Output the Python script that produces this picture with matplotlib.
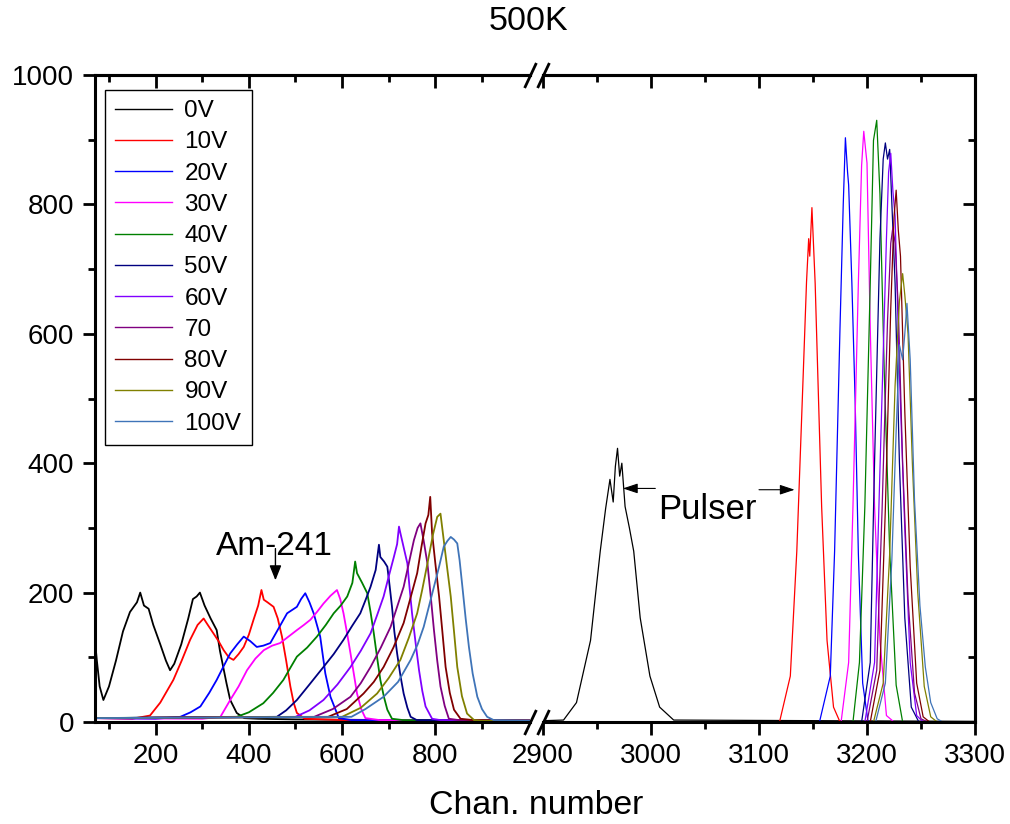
import matplotlib
matplotlib.use("Agg")
import matplotlib.pyplot as plt

plt.rcParams['font.family'] = ['Liberation Sans', 'DejaVu Sans']

# spectra: channel / counts, Am-241 part then pulser part
ch_0V = [70, 74, 80, 88, 100, 115, 130, 145, 160, 167, 175, 185, 195, 210, 222, 231, 240, 255, 270, 280,
         288, 295, 305, 318, 331, 338, 345, 352, 360, 374, 390, 420, 500, 700, 1005,
         2900, 2919, 2931, 2944, 2953, 2958, 2962, 2965, 2967, 2969, 2971, 2973, 2976, 2980, 2984, 2990,
         2999, 3008, 3021, 3300]
cnt_0V = [125, 95, 55, 34, 55, 95, 140, 170, 185, 200, 180, 175, 150, 120, 95, 80, 90, 120, 160, 190,
          194, 200, 180, 160, 142, 110, 85, 60, 34, 14, 6, 5, 4, 3, 2,
          2, 3, 30, 126, 264, 330, 375, 340, 395, 423, 380, 400, 333, 300, 264, 161,
          71, 23, 3, 1]

ch_10V = [70, 150, 188, 210, 238, 256, 274, 290, 303, 312, 324, 335, 346, 357, 367, 378, 389, 400, 410, 420,
          427, 432, 440, 453, 462, 471, 480, 489, 496, 503, 520, 600, 1005,
          2900, 3119, 3129, 3135, 3141, 3144, 3146, 3147, 3149, 3152, 3155, 3158, 3163, 3169, 3175, 3300]
cnt_10V = [6, 5, 10, 30, 65, 95, 127, 150, 160, 150, 137, 125, 111, 100, 96, 105, 116, 135, 158, 180,
           204, 189, 185, 178, 160, 132, 95, 55, 30, 14, 5, 3, 2,
           0, 0, 71, 264, 540, 680, 747, 720, 795, 678, 505, 333, 126, 23, 0, 0]

ch_20V = [70, 200, 253, 275, 296, 315, 331, 345, 360, 375, 389, 403, 417, 431, 446, 464, 482, 503, 512, 521,
          530, 539, 553, 564, 575, 593, 620, 1005,
          2900, 3156, 3166, 3170, 3175, 3178, 3180, 3182, 3183, 3186, 3189, 3192, 3196, 3201, 3300]
cnt_20V = [6, 5, 8, 15, 24, 45, 65, 85, 106, 120, 132, 125, 116, 118, 122, 145, 168, 178, 190, 199,
           185, 168, 132, 75, 39, 6, 3, 2,
           0, 0, 71, 264, 609, 800, 903, 850, 830, 678, 498, 260, 60, 0, 0]

ch_30V = [70, 300, 339, 360, 378, 396, 414, 432, 450, 467, 485, 503, 518, 532, 546, 560, 575, 589, 596, 603,
          610, 618, 625, 632, 641, 650, 680, 1005,
          2900, 3176, 3183, 3187, 3192, 3195, 3197, 3199, 3200, 3203, 3207, 3212, 3218, 3225, 3300]
cnt_30V = [6, 5, 8, 34, 55, 80, 98, 111, 118, 122, 132, 142, 150, 158, 170, 183, 195, 204, 190, 168,
           140, 106, 75, 44, 20, 6, 3, 2,
           0, 0, 92, 333, 678, 860, 913, 880, 864, 609, 333, 126, 10, 0, 0]

ch_40V = [70, 374, 400, 431, 452, 474, 490, 503, 525, 546, 565, 582, 597, 611, 622, 628, 632, 643, 654, 661,
          668, 675, 682, 690, 697, 707, 730, 1005,
          2900, 3187, 3193, 3198, 3203, 3206, 3209, 3212, 3216, 3221, 3227, 3233, 3300]
cnt_40V = [6, 8, 15, 29, 45, 65, 85, 101, 115, 132, 150, 168, 180, 194, 215, 248, 230, 215, 199, 170,
           137, 100, 65, 38, 19, 5, 3, 2,
           0, 0, 92, 333, 678, 899, 930, 816, 540, 264, 57, 0, 0]

ch_50V = [70, 460, 480, 503, 530, 560, 582, 603, 621, 639, 650, 661, 672, 679, 682, 690, 697, 702, 707, 712,
          718, 725, 732, 740, 747, 760, 1005,
          2900, 3195, 3203, 3207, 3212, 3215, 3217, 3219, 3221, 3226, 3230, 3235, 3241, 3248, 3300]
cnt_50V = [6, 8, 18, 34, 58, 85, 105, 127, 148, 168, 188, 209, 235, 274, 255, 248, 240, 210, 178, 140,
           106, 72, 44, 22, 8, 3, 2,
           0, 0, 92, 402, 747, 870, 895, 870, 885, 678, 402, 161, 23, 0, 0]

ch_60V = [70, 500, 530, 560, 590, 618, 640, 661, 675, 689, 700, 711, 718, 722, 725, 732, 740, 745, 750, 758,
          765, 772, 779, 793, 810, 1005,
          2900, 3198, 3207, 3213, 3218, 3220, 3222, 3224, 3226, 3230, 3235, 3240, 3246, 3252, 3300]
cnt_60V = [6, 8, 18, 34, 58, 85, 110, 137, 165, 194, 225, 255, 275, 302, 292, 270, 245, 205, 168, 120,
           80, 48, 24, 5, 3, 2,
           0, 0, 92, 450, 747, 850, 879, 820, 782, 540, 298, 92, 10, 0, 0]

ch_70 = [70, 540, 580, 618, 640, 661, 683, 704, 718, 732, 743, 754, 762, 768, 775, 783, 790, 797, 804, 811,
         820, 829, 850, 1005,
         2900, 3200, 3209, 3214, 3219, 3222, 3224, 3226, 3229, 3233, 3238, 3244, 3250, 3256, 3300]
cnt_70 = [6, 8, 20, 39, 60, 85, 115, 147, 178, 209, 245, 281, 300, 307, 280, 245, 195, 142, 95, 55,
          25, 5, 3, 2,
          0, 0, 80, 330, 620, 740, 765, 740, 640, 400, 190, 45, 5, 0, 0]

ch_80V = [70, 570, 610, 646, 668, 689, 710, 732, 746, 761, 770, 779, 785, 789, 793, 800, 808, 815, 822, 831,
          840, 854, 880, 1005,
          2900, 3203, 3212, 3217, 3222, 3225, 3227, 3229, 3231, 3235, 3240, 3246, 3252, 3258, 3300]
cnt_80V = [6, 8, 20, 44, 62, 85, 115, 153, 190, 230, 270, 307, 320, 348, 292, 245, 194, 140, 85, 45,
           19, 5, 3, 2,
           0, 0, 80, 330, 640, 780, 822, 760, 720, 480, 240, 60, 8, 0, 0]

ch_90V = [70, 600, 640, 675, 700, 725, 743, 761, 772, 783, 795, 804, 811, 818, 825, 833, 840, 847, 857, 868,
          883, 900, 1005,
          2900, 3206, 3215, 3221, 3226, 3230, 3233, 3235, 3238, 3242, 3247, 3253, 3259, 3265, 3300]
cnt_90V = [6, 8, 22, 44, 68, 96, 130, 168, 205, 245, 290, 317, 322, 281, 240, 194, 140, 85, 40, 13,
           3, 2, 2,
           0, 0, 60, 260, 520, 650, 693, 660, 600, 400, 200, 55, 8, 0, 0]

ch_100V = [70, 620, 650, 689, 720, 747, 762, 775, 786, 797, 808, 818, 826, 833, 840, 847, 852, 858, 865, 872,
           880, 890, 900, 911, 925, 1005,
           2900, 3208, 3217, 3223, 3227, 3230, 3233, 3235, 3237, 3240, 3244, 3249, 3254, 3259, 3265, 3270, 3300]
cnt_100V = [6, 8, 20, 39, 62, 96, 120, 147, 178, 209, 240, 271, 280, 286, 282, 276, 250, 209, 160, 116,
            75, 39, 20, 8, 3, 2,
            0, 0, 60, 250, 450, 583, 560, 600, 647, 560, 343, 180, 85, 30, 5, 0, 0]

labels = ['0V', '10V', '20V', '30V', '40V', '50V', '60V', '70', '80V', '90V', '100V']
colors = ['black', '#ff0000', '#0000ff', '#ff00ff', '#008000', '#000080',
          '#8000ff', '#800080', '#800000', '#808000', '#3f74b8']
series = [(ch_0V, cnt_0V), (ch_10V, cnt_10V), (ch_20V, cnt_20V), (ch_30V, cnt_30V),
          (ch_40V, cnt_40V), (ch_50V, cnt_50V), (ch_60V, cnt_60V), (ch_70, cnt_70),
          (ch_80V, cnt_80V), (ch_90V, cnt_90V), (ch_100V, cnt_100V)]

left_xlim = (70, 1003)
right_xlim = (2900, 3300)
left_major = [200, 400, 600, 800]
left_minor = [100, 300, 500, 700, 900]
right_major = [2900, 3000, 3100, 3200, 3300]
right_minor = [2950, 3050, 3150, 3250]
y_major = [0, 200, 400, 600, 800, 1000]
y_minor = [100, 300, 500, 700, 900]

SW = 2.2   # spine width
TICK = dict(width=2.0)

fig = plt.figure(figsize=(10.1, 8.24), dpi=100)
ax1 = fig.add_axes([95 / 1010, 102 / 824, 435 / 1010, 647 / 824])
ax2 = fig.add_axes([543 / 1010, 102 / 824, 432 / 1010, 647 / 824])

for ax, lw in ((ax1, 1.3), (ax2, 0.9)):
    for (xs, ys), c, lab in zip(series, colors, labels):
        ax.plot(xs, ys, color=c, lw=lw, label=lab)
    ax.set_ylim(0, 1000)
    for s in ax.spines.values():
        s.set_linewidth(SW)

ax1.set_xlim(*left_xlim)
ax2.set_xlim(*right_xlim)
ax1.spines['right'].set_visible(False)
ax2.spines['left'].set_visible(False)

# bottom ticks (out)
ax1.set_xticks(left_major)
ax1.set_xticks(left_minor, minor=True)
ax2.set_xticks(right_major)
ax2.set_xticks(right_minor, minor=True)
for ax in (ax1, ax2):
    ax.tick_params(axis='x', which='major', direction='out', length=9, pad=6, labelsize=20, **TICK)
    ax.tick_params(axis='x', which='minor', direction='out', length=5, **TICK)

# left y ticks (out)
ax1.set_yticks(y_major)
ax1.set_yticks(y_minor, minor=True)
ax1.tick_params(axis='y', which='major', direction='out', length=9, pad=6, labelsize=20, **TICK)
ax1.tick_params(axis='y', which='minor', direction='out', length=5, **TICK)
ax2.tick_params(axis='y', which='both', left=False, labelleft=False)

# top ticks (in)
for ax, maj, mnr in ((ax1, left_major, left_minor), (ax2, right_major, right_minor)):
    top = ax.secondary_xaxis('top')
    top.set_xticks(maj)
    top.set_xticks(mnr, minor=True)
    top.tick_params(which='major', direction='in', length=9, labeltop=False, **TICK)
    top.tick_params(which='minor', direction='in', length=5, **TICK)
    top.spines['top'].set_linewidth(SW)

# right ticks (in)
rgt = ax2.secondary_yaxis('right')
rgt.set_yticks(y_major)
rgt.set_yticks(y_minor, minor=True)
rgt.tick_params(which='major', direction='in', length=9, labelright=False, **TICK)
rgt.tick_params(which='minor', direction='in', length=5, **TICK)
rgt.spines['right'].set_linewidth(SW)

# break marks
slash = [(-0.47, -1), (0.47, 1)]
kw = dict(marker=slash, markersize=18, linestyle='none', color='k', mec='k', mew=2.0, clip_on=False)
ax1.plot([1, 1], [0, 1], transform=ax1.transAxes, **kw)
ax2.plot([0, 0], [0, 1], transform=ax2.transAxes, **kw)

# legend
leg = ax1.legend(loc='upper left', bbox_to_anchor=(0.023, 0.977), borderaxespad=0,
                 fontsize=17.5, labelspacing=0.38, handlelength=2.35, handletextpad=0.5,
                 borderpad=0.42, fancybox=False, framealpha=1, edgecolor='black')
leg.get_frame().set_linewidth(1.0)
for ln in leg.get_lines():
    ln.set_linewidth(1.0)

# annotations
ax1.annotate('', xy=(457, 219), xytext=(457, 268),
             arrowprops=dict(arrowstyle='-|>,head_length=0.45,head_width=0.18', color='k',
                             lw=1.0, mutation_scale=20, shrinkA=0, shrinkB=0))
ax1.text(454, 271, 'Am-241', fontsize=24, ha='center', va='center')

ax2.text(3052, 328, 'Pulser', fontsize=25, ha='center', va='center')
for tail, tip, yy in ((3004, 2974, 361), (3100, 3133, 359)):
    ax2.annotate('', xy=(tip, yy), xytext=(tail, yy),
                 arrowprops=dict(arrowstyle='-|>,head_length=0.45,head_width=0.15', color='k',
                                 lw=0.8, mutation_scale=20, shrinkA=0, shrinkB=0))

fig.text(528 / 1010, 1 - 22 / 824, '500K', fontsize=24.5, ha='center', va='center')
fig.text(536 / 1010, 1 - 806 / 824, 'Chan. number', fontsize=24.3, ha='center', va='center')

fig.savefig('out.png', dpi=100)
